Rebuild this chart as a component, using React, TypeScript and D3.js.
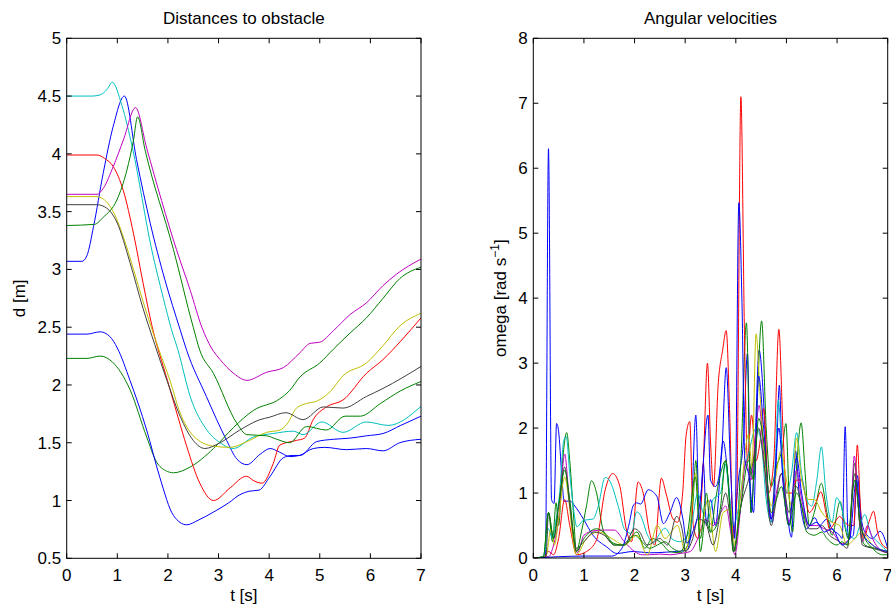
import React from 'react';
import * as d3 from 'd3';

const COLORS = ['#0000ff', '#008000', '#ff0000', '#00bfbf', '#bf00bf', '#bfbf00', '#404040', '#0000ff', '#008000'];

const tTicks = [0, 1, 2, 3, 4, 5, 6, 7];
const dTicks = [0.5, 1, 1.5, 2, 2.5, 3, 3.5, 4, 4.5, 5];
const wTicks = [0, 1, 2, 3, 4, 5, 6, 7, 8];

// Distances to obstacle: [t, d]
const distBlueA = [[0,3.07],[0.3,3.07],[0.4,3.12],[0.53,3.37],[0.72,3.83],[0.92,4.24],[1.14,4.5],[1.38,3.95],[1.65,3.4],[1.94,2.91],[2.24,2.48],[2.37,2.3],[2.76,1.9],[3.16,1.52],[3.36,1.36],[3.56,1.31],[3.82,1.4],[4.02,1.45],[4.2,1.42],[4.41,1.38],[4.6,1.39],[4.87,1.45],[5.1,1.46],[5.53,1.44],[5.92,1.45],[6.25,1.43],[6.58,1.5],[7,1.53]];
const distGreenA = [[0,2.23],[0.4,2.23],[0.66,2.25],[0.9,2.2],[1.25,1.96],[1.58,1.55],[1.78,1.33],[1.95,1.26],[2.11,1.24],[2.44,1.29],[2.9,1.45],[3.29,1.63],[3.69,1.78],[4.21,1.88],[4.4,1.95],[4.61,2.07],[5.0,2.19],[5.27,2.31],[5.6,2.45],[5.92,2.58],[6.25,2.75],[6.58,2.92],[7,3.02]];
const distRed = [[0,3.99],[0.6,3.99],[0.75,3.96],[0.92,3.89],[1.12,3.68],[1.32,3.31],[1.51,2.88],[1.68,2.52],[1.99,2.04],[2.2,1.72],[2.37,1.47],[2.63,1.15],[2.9,1.0],[3.23,1.11],[3.55,1.21],[3.7,1.17],[3.86,1.15],[4.08,1.32],[4.21,1.48],[4.54,1.52],[4.7,1.54],[4.87,1.7],[5.13,1.81],[5.46,1.87],[5.92,2.1],[6.25,2.22],[6.6,2.38],[7,2.58]];
const distCyan = [[0,4.5],[0.5,4.5],[0.66,4.51],[0.8,4.56],[0.9,4.62],[1.09,4.42],[1.3,4.05],[1.68,3.17],[1.91,2.75],[2.07,2.48],[2.2,2.3],[2.44,1.9],[2.77,1.61],[3.03,1.5],[3.29,1.45],[3.69,1.55],[4.08,1.58],[4.48,1.6],[4.67,1.57],[5.04,1.68],[5.46,1.59],[5.92,1.68],[6.35,1.65],[7,1.815]];
const distMagenta = [[0,3.65],[0.6,3.65],[0.72,3.7],[0.92,3.89],[1.12,4.12],[1.36,4.4],[1.58,4.05],[2.17,3.17],[2.44,2.82],[2.67,2.5],[2.86,2.32],[3.03,2.22],[3.3,2.1],[3.56,2.04],[3.95,2.11],[4.28,2.15],[4.61,2.28],[4.81,2.36],[5.0,2.37],[5.27,2.47],[5.6,2.61],[5.92,2.71],[6.25,2.86],[6.52,2.96],[7,3.09]];
const distYellow = [[0,3.63],[0.6,3.63],[0.72,3.61],[0.92,3.5],[1.12,3.28],[1.32,3.0],[1.51,2.72],[1.81,2.32],[2.04,2.04],[2.24,1.76],[2.5,1.56],[2.9,1.47],[3.23,1.46],[3.56,1.51],[3.95,1.59],[4.21,1.61],[4.35,1.66],[4.54,1.8],[4.74,1.84],[4.94,1.86],[5.2,1.94],[5.46,2.08],[5.92,2.19],[6.25,2.34],[6.58,2.51],[7,2.62]];
const distGray = [[0,3.56],[0.6,3.56],[0.79,3.53],[0.99,3.41],[1.25,3.06],[1.51,2.66],[1.74,2.35],[1.98,2.04],[2.24,1.73],[2.5,1.52],[2.73,1.45],[3.03,1.5],[3.42,1.61],[3.82,1.7],[4.0,1.72],[4.33,1.76],[4.67,1.7],[5.07,1.81],[5.46,1.8],[5.92,1.9],[6.25,1.97],[7,2.16]];
const distBlueB = [[0,2.44],[0.4,2.44],[0.66,2.46],[0.85,2.42],[1.0,2.32],[1.25,2.04],[1.58,1.61],[1.84,1.2],[2.11,0.87],[2.37,0.79],[2.6,0.83],[2.9,0.9],[3.2,0.98],[3.42,1.05],[3.6,1.08],[3.8,1.09],[4.02,1.21],[4.28,1.37],[4.45,1.39],[4.61,1.39],[4.94,1.51],[5.27,1.53],[5.6,1.54],[5.92,1.56],[6.25,1.58],[6.6,1.65],[7,1.73]];
const distGreenB = [[0,3.38],[0.55,3.39],[0.72,3.45],[0.99,3.6],[1.19,3.86],[1.32,4.12],[1.4,4.32],[1.55,4.03],[2.11,3.17],[2.5,2.5],[2.63,2.3],[2.9,2.1],[3.36,1.67],[3.56,1.57],[3.95,1.56],[4.15,1.53],[4.4,1.5],[4.74,1.64],[5.13,1.61],[5.5,1.73],[5.8,1.73],[6.2,1.84],[6.6,1.95],[7,2.03]];

// Angular velocities: [t, omega]
const omegaBlueA = [[0,0],[0.2,0],[0.24,0.02],[0.3,6.3],[0.36,0.9],[0.41,0.84],[0.46,2.07],[0.5,1.95],[0.56,1.3],[0.61,0.87],[0.72,0.88],[0.82,0.8],[0.99,0.6],[1.18,0.35],[1.45,0.17],[1.65,0.07],[1.97,0.1],[2.3,0.08],[2.63,0.09],[3.03,0.12],[3.1,0.3],[3.21,2.2],[3.28,0.6],[3.36,1.45],[3.42,0.5],[3.5,0.9],[3.6,0.5],[3.75,1.8],[3.85,1.2],[3.95,0.3],[4.05,1.2],[4.15,1.8],[4.23,3.15],[4.3,0.7],[4.38,1.8],[4.46,3.2],[4.55,2.4],[4.62,1.2],[4.72,0.55],[4.8,1.5],[4.86,2.66],[4.92,1.4],[5.0,0.8],[5.1,0.32],[5.18,1.65],[5.25,1.0],[5.4,0.45],[5.56,0.62],[5.65,0.5],[5.8,0.6],[5.9,0.45],[6.05,0.35],[6.1,0.3],[6.16,2.02],[6.22,0.3],[6.32,0.35],[6.4,1.27],[6.48,0.6],[6.55,0.4],[6.7,0.3],[6.85,0.41],[7,0.15]];
const omegaGreenA = [[0,0],[0.2,0.02],[0.3,0.7],[0.38,0.25],[0.45,0.85],[0.5,0.5],[0.58,1.5],[0.66,1.93],[0.72,1.5],[0.8,0.6],[0.85,0.1],[0.95,0.4],[1.05,0.8],[1.15,1.19],[1.25,1.0],[1.38,0.43],[1.58,0.23],[1.75,0.2],[1.9,0.3],[2.05,0.4],[2.2,0.15],[2.35,0.3],[2.5,0.25],[2.7,0.1],[2.9,0.08],[3.05,0.2],[3.15,0.8],[3.21,1.5],[3.3,0.1],[3.4,0.6],[3.5,0.4],[3.6,0.9],[3.7,1.3],[3.8,1.5],[3.9,0.6],[3.98,0.1],[4.1,1.5],[4.21,3.62],[4.3,0.7],[4.4,2.0],[4.51,3.65],[4.6,2.0],[4.7,1.1],[4.8,1.4],[4.92,1.7],[4.99,2.07],[5.05,1.0],[5.12,0.4],[5.2,1.4],[5.29,2.08],[5.37,1.3],[5.45,0.5],[5.55,0.7],[5.69,1.15],[5.8,0.7],[5.9,0.35],[6.06,0.87],[6.15,0.5],[6.22,0.3],[6.35,1.46],[6.45,0.5],[6.55,0.2],[6.75,0.15],[7,0.1]];
const omegaRed = [[0,0],[0.2,0],[0.3,0.1],[0.4,0.05],[0.5,0.3],[0.62,0.9],[0.72,0.5],[0.86,0.05],[1.05,0.1],[1.25,0.28],[1.42,1.05],[1.57,1.3],[1.71,1.1],[1.84,0.43],[1.94,0.25],[2.07,1.17],[2.17,1.0],[2.3,0.38],[2.4,0.2],[2.53,1.23],[2.62,1.0],[2.76,0.6],[2.85,0.55],[2.95,1.0],[3.02,1.9],[3.09,2.1],[3.16,0.5],[3.25,0.3],[3.36,1.5],[3.44,3.0],[3.5,1.8],[3.56,1.1],[3.65,2.65],[3.74,3.2],[3.81,3.5],[3.88,2.2],[3.95,0.3],[4.02,1.0],[4.1,7.1],[4.17,3.5],[4.23,1.5],[4.31,2.2],[4.4,1.5],[4.48,1.8],[4.55,2.3],[4.65,1.0],[4.75,1.5],[4.85,3.52],[4.93,2.0],[5.0,1.0],[5.1,1.0],[5.2,1.2],[5.3,1.2],[5.45,0.7],[5.58,0.85],[5.68,1.02],[5.78,0.7],[5.85,0.45],[6.0,0.6],[6.05,0.64],[6.15,0.55],[6.25,0.5],[6.33,0.5],[6.4,1.74],[6.46,0.8],[6.52,0.3],[6.65,0.6],[6.72,0.72],[6.8,0.4],[6.9,0.2],[7,0.15]];
const omegaCyan = [[0,0],[0.2,0.02],[0.3,0.45],[0.38,0.3],[0.45,0.6],[0.52,1.0],[0.6,1.8],[0.65,1.87],[0.72,1.3],[0.79,0.79],[0.86,0.48],[0.99,0.58],[1.18,0.6],[1.28,0.79],[1.42,1.24],[1.5,1.2],[1.68,0.79],[1.81,0.43],[1.94,0.38],[2.04,0.71],[2.1,0.68],[2.27,0.33],[2.37,0.23],[2.5,0.38],[2.6,0.46],[2.76,0.28],[2.9,0.25],[3.03,0.33],[3.12,0.5],[3.25,1.0],[3.35,0.7],[3.45,0.6],[3.55,0.9],[3.7,1.0],[3.79,1.45],[3.88,0.9],[3.95,0.5],[4.08,0.9],[4.15,1.3],[4.25,1.6],[4.4,2.0],[4.5,1.8],[4.6,0.9],[4.7,0.55],[4.78,1.5],[4.84,2.43],[4.92,1.5],[5.0,1.0],[5.1,1.3],[5.2,1.93],[5.3,1.3],[5.4,0.9],[5.5,0.8],[5.6,1.2],[5.69,1.71],[5.78,1.0],[5.9,0.55],[5.99,0.93],[6.08,0.8],[6.2,0.4],[6.35,0.3],[6.45,0.5],[6.55,0.67],[6.65,0.4],[6.8,0.25],[7,0.1]];
const omegaMagenta = [[0,0],[0.3,0.02],[0.4,0.2],[0.5,0.6],[0.62,1.6],[0.7,1.0],[0.8,0.3],[0.87,0.08],[1.0,0.35],[1.2,0.42],[1.4,0.43],[1.6,0.43],[1.8,0.25],[2.0,0.1],[2.15,0.05],[2.3,0.05],[2.5,0.06],[2.7,0.05],[2.9,0.07],[3.1,0.1],[3.25,0.3],[3.4,0.6],[3.55,0.5],[3.7,0.7],[3.8,0.8],[3.9,0.4],[3.98,0.05],[4.1,0.8],[4.2,1.5],[4.3,1.2],[4.38,1.8],[4.46,2.35],[4.55,1.6],[4.7,0.6],[4.8,1.0],[4.9,1.3],[5.05,0.55],[5.2,1.35],[5.3,0.9],[5.45,0.5],[5.6,0.5],[5.75,0.45],[5.9,0.4],[6.0,0.3],[6.1,0.22],[6.25,0.3],[6.34,1.57],[6.42,0.8],[6.5,0.25],[6.6,0.5],[6.7,0.3],[6.9,0.1],[7,0.08]];
const omegaYellow = [[0,0],[0.25,0.02],[0.35,0.45],[0.42,0.2],[0.5,0.6],[0.62,1.25],[0.7,0.9],[0.78,0.3],[0.85,0.05],[1.05,0.3],[1.3,0.4],[1.55,0.3],[1.8,0.2],[2.05,0.35],[2.25,0.05],[2.45,0.5],[2.6,0.3],[2.85,0.5],[3.0,0.1],[3.1,0.5],[3.2,1.3],[3.3,0.4],[3.45,0.9],[3.6,0.1],[3.75,0.7],[3.9,0.75],[3.98,0.2],[4.1,1.0],[4.25,1.9],[4.32,1.4],[4.4,3.45],[4.48,2.5],[4.6,1.3],[4.7,0.8],[4.8,1.3],[4.89,1.65],[5.0,1.2],[5.1,0.8],[5.2,1.85],[5.3,1.2],[5.45,0.9],[5.55,0.9],[5.7,0.7],[5.9,0.55],[6.05,0.5],[6.2,0.2],[6.35,0.3],[6.5,0.4],[6.7,0.2],[7,0.1]];
const omegaGray = [[0,0],[0.25,0.02],[0.3,0.7],[0.4,0.3],[0.5,0.8],[0.62,1.4],[0.72,0.8],[0.85,0.15],[1.0,0.25],[1.2,0.4],[1.4,0.35],[1.6,0.2],[1.8,0.2],[2.0,0.45],[2.1,0.4],[2.25,0.2],[2.5,0.3],[2.65,0.2],[2.83,0.64],[2.95,0.4],[3.0,0.1],[3.15,0.3],[3.25,0.6],[3.4,0.55],[3.55,0.2],[3.7,0.7],[3.8,1.0],[3.9,0.5],[3.95,0.1],[4.1,0.8],[4.25,1.2],[4.35,1.5],[4.45,2.0],[4.55,1.5],[4.7,0.5],[4.8,0.9],[4.9,1.3],[5.05,0.7],[5.2,1.1],[5.3,0.8],[5.45,0.45],[5.6,0.45],[5.7,0.5],[5.85,0.35],[6.05,0.25],[6.2,0.15],[6.35,1.3],[6.45,0.5],[6.5,0.2],[6.7,0.15],[7,0.08]];
const omegaBlueB = [[0,0],[0.5,0.02],[1.0,0.03],[1.55,0.03],[1.75,0.15],[1.9,0.55],[1.97,0.8],[2.04,0.85],[2.12,0.83],[2.27,1.05],[2.44,0.95],[2.57,0.53],[2.7,0.7],[2.83,0.93],[2.96,0.58],[3.03,0.23],[3.15,0.4],[3.3,0.9],[3.45,2.2],[3.5,1.2],[3.6,1.1],[3.72,1.6],[3.81,2.93],[3.9,1.3],[3.98,0.3],[4.06,5.47],[4.12,4.0],[4.18,1.5],[4.25,1.3],[4.35,0.7],[4.45,2.8],[4.55,2.0],[4.7,0.6],[4.85,2.0],[4.95,1.0],[5.05,0.5],[5.2,1.55],[5.3,1.0],[5.45,0.5],[5.6,0.55],[5.75,0.4],[5.9,0.45],[6.1,0.2],[6.25,0.3],[6.38,1.2],[6.5,0.4],[6.7,0.2],[7,0.1]];
const omegaGreenB = [[0,0],[0.2,0.02],[0.3,0.7],[0.4,0.3],[0.5,0.8],[0.62,1.35],[0.72,0.9],[0.85,0.1],[1.0,0.3],[1.25,0.45],[1.45,0.35],[1.6,0.2],[1.8,0.2],[2.0,0.35],[2.15,0.25],[2.3,0.15],[2.45,0.2],[2.6,0.25],[2.75,0.15],[2.9,0.1],[3.05,0.4],[3.2,1.25],[3.3,0.3],[3.42,1.0],[3.5,0.4],[3.62,0.5],[3.7,0.8],[3.8,1.5],[3.9,0.6],[3.95,0.1],[4.1,0.8],[4.25,1.5],[4.35,1.2],[4.45,2.15],[4.55,1.8],[4.7,0.7],[4.8,0.9],[4.9,1.1],[5.05,0.5],[5.2,1.0],[5.3,0.8],[5.4,0.4],[5.55,0.35],[5.7,0.4],[5.8,0.3],[6.0,0.2],[6.1,0.25],[6.2,0.2],[6.35,1.2],[6.45,0.6],[6.5,0.4],[6.7,0.15],[6.9,0.05],[7,0.05]];

const distSeries = [distBlueA, distGreenA, distRed, distCyan, distMagenta, distYellow, distGray, distBlueB, distGreenB];
const omegaSeries = [omegaBlueA, omegaGreenA, omegaRed, omegaCyan, omegaMagenta, omegaYellow, omegaGray, omegaBlueB, omegaGreenB];

const FONT = '"Liberation Sans", Arial, Helvetica, sans-serif';
const FS = 17;
const TICK = 5;

type Box = { left: number; right: number; top: number; bottom: number };

function Panel(props: {
  id: string; box: Box; xDomain: [number, number]; yDomain: [number, number];
  xTicks: number[]; yTicks: number[]; series: number[][][]; title: string;
  ylabel: React.ReactNode; ylabelX: number; curve: any;
}) {
  const { id, box, xDomain, yDomain, xTicks, yTicks, series, title, ylabel, ylabelX, curve } = props;
  const x = d3.scaleLinear().domain(xDomain).range([box.left, box.right]);
  const y = d3.scaleLinear().domain(yDomain).range([box.bottom, box.top]);
  const line = d3.line<number[]>().x(d => x(d[0])).y(d => y(d[1])).curve(curve);
  const cx = (box.left + box.right) / 2;
  const cy = (box.top + box.bottom) / 2;
  return (
    <g>
      <defs>
        <clipPath id={id}>
          <rect x={box.left} y={box.top} width={box.right - box.left} height={box.bottom - box.top} />
        </clipPath>
      </defs>
      <g clipPath={`url(#${id})`}>
        {series.map((s, i) => (
          <path key={i} d={line(s) || ''} fill="none" stroke={COLORS[i]} strokeWidth={1} />
        ))}
      </g>
      <rect x={box.left} y={box.top} width={box.right - box.left} height={box.bottom - box.top} fill="none" stroke="#000" strokeWidth={1} />
      {xTicks.map(t => (
        <g key={'x' + t}>
          <line x1={x(t)} x2={x(t)} y1={box.bottom} y2={box.bottom - TICK} stroke="#000" />
          <line x1={x(t)} x2={x(t)} y1={box.top} y2={box.top + TICK} stroke="#000" />
          <text x={x(t)} y={581} textAnchor="middle" fontSize={FS} fontFamily={FONT}>{String(t)}</text>
        </g>
      ))}
      {yTicks.map(v => (
        <g key={'y' + v}>
          <line x1={box.left} x2={box.left + TICK} y1={y(v)} y2={y(v)} stroke="#000" />
          <line x1={box.right} x2={box.right - TICK} y1={y(v)} y2={y(v)} stroke="#000" />
          <text x={box.left - 5.5} y={y(v) + 6} textAnchor="end" fontSize={FS} fontFamily={FONT}>{String(v)}</text>
        </g>
      ))}
      <text x={cx} y={24} textAnchor="middle" fontSize={FS} fontFamily={FONT}>{title}</text>
      <text x={cx} y={601} textAnchor="middle" fontSize={FS} fontFamily={FONT}>t [s]</text>
      <text transform={`translate(${ylabelX},${cy}) rotate(-90)`} textAnchor="middle" fontSize={FS} fontFamily={FONT}>{ylabel}</text>
    </g>
  );
}

export default function App() {
  return (
    <svg width={891} height={607} style={{ position: 'absolute', left: 0, top: 0, background: '#fff' }}>
      <rect x={0} y={0} width={891} height={607} fill="#fff" />
      <Panel id="clipL" box={{ left: 66.7, right: 421, top: 38.3, bottom: 558.3 }}
        xDomain={[0, 7]} yDomain={[0.5, 5]} xTicks={tTicks} yTicks={dTicks}
        series={distSeries} title="Distances to obstacle" ylabel="d [m]" ylabelX={25}
        curve={d3.curveMonotoneX} />
      <Panel id="clipR" box={{ left: 533.3, right: 887.7, top: 38.3, bottom: 558 }}
        xDomain={[0, 7]} yDomain={[0, 8]} xTicks={tTicks} yTicks={wTicks}
        series={omegaSeries} title="Angular velocities"
        ylabel={<>omega [rad s<tspan dy={-7} fontSize={12}>−1</tspan><tspan dy={7}>]</tspan></>}
        ylabelX={506} curve={d3.curveMonotoneX} />
    </svg>
  );
}
